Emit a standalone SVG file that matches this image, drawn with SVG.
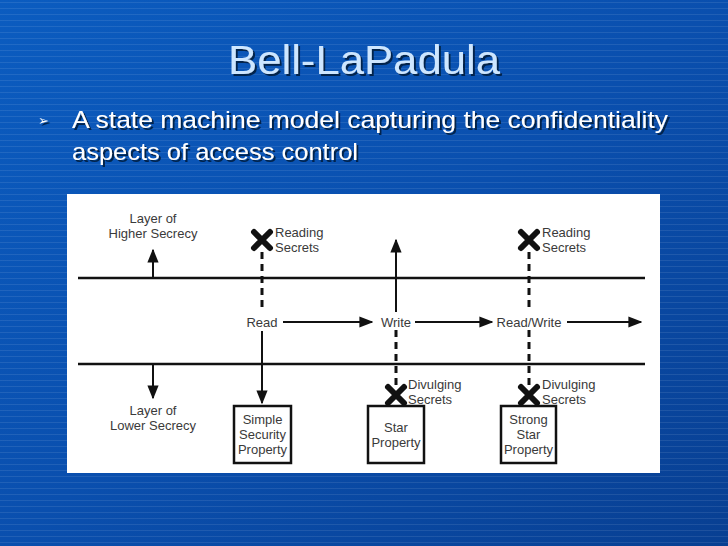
<svg xmlns="http://www.w3.org/2000/svg" width="728" height="546" viewBox="0 0 728 546">
<defs>
<linearGradient id="bg" x1="0" y1="0" x2="1" y2="1">
<stop offset="0" stop-color="#0b5cc0"/>
<stop offset="0.5" stop-color="#0a4fae"/>
<stop offset="1" stop-color="#083f92"/>
</linearGradient>
<pattern id="stripes" width="8" height="6" patternUnits="userSpaceOnUse">
<rect width="8" height="1" y="2" fill="#ffffff" fill-opacity="0.09"/>
</pattern>
<marker id="ah" viewBox="0 0 10 10" refX="9" refY="5" markerWidth="5" markerHeight="5" orient="auto-start-reverse" markerUnits="strokeWidth">
<path d="M0,1 L10,5 L0,9 Z" fill="#111"/>
</marker>
<marker id="ahs" viewBox="0 0 10 10" refX="9" refY="5" markerWidth="7" markerHeight="7" orient="auto" markerUnits="strokeWidth">
<path d="M0,1 L10,5 L0,9 Z" fill="#111"/>
</marker>
<filter id="sh" x="-5%" y="-20%" width="110%" height="140%">
<feDropShadow dx="2" dy="2" stdDeviation="0.6" flood-color="#001a40" flood-opacity="0.9"/>
</filter>
<path id="xm" d="M-8,-8 L8,8 M8,-8 L-8,8" stroke="#111" stroke-width="6" stroke-linecap="round"/>
</defs>
<style>
.lbl{font-family:"Liberation Sans",Arial,sans-serif;font-size:13px;fill:#3a3a3a}
.c{text-anchor:middle}
.ln{stroke:#111;stroke-width:2.5;fill:none}
.ar{stroke:#111;stroke-width:2;fill:none}
.ds{stroke:#111;stroke-width:3;stroke-dasharray:7,5;fill:none}
.box{fill:#fff;stroke:#111;stroke-width:2.5}
</style>
<rect width="728" height="546" fill="url(#bg)"/>
<rect width="728" height="546" fill="url(#stripes)"/>
<g id="title" filter="url(#sh)">
<text x="364" y="74" text-anchor="middle" font-family="Liberation Sans, Arial, sans-serif" font-size="40" fill="#cde6ff" textLength="272" lengthAdjust="spacingAndGlyphs">Bell-LaPadula</text>
</g>
<g id="bullet" filter="url(#sh)" font-family="Liberation Sans, Arial, sans-serif" font-size="24" fill="#ffffff">
<text x="38" y="125" font-family="DejaVu Sans, sans-serif" font-size="13">➢</text>
<text x="72" y="128" textLength="596" lengthAdjust="spacingAndGlyphs">A state machine model capturing the confidentiality</text>
<text x="72" y="160" textLength="286" lengthAdjust="spacingAndGlyphs">aspects of access control</text>
</g>
<rect id="panel" x="67" y="194" width="593" height="279" fill="#ffffff"/>
<g id="layers">
<line class="ln" x1="78" y1="278" x2="645" y2="278"/>
<line class="ln" x1="78" y1="364" x2="645" y2="364"/>
</g>
<g id="connectors">
<line class="ar" x1="153" y1="277" x2="153" y2="250" marker-end="url(#ahs)"/>
<line class="ar" x1="153" y1="365" x2="153" y2="398" marker-end="url(#ahs)"/>
<line class="ds" x1="262" y1="252" x2="262" y2="312"/>
<line class="ar" x1="262" y1="331" x2="262" y2="403" marker-end="url(#ahs)"/>
<line class="ar" x1="396" y1="312" x2="396" y2="240" marker-end="url(#ahs)"/>
<line class="ds" x1="396" y1="330" x2="396" y2="385"/>
<line class="ds" x1="529" y1="252" x2="529" y2="312"/>
<line class="ds" x1="529" y1="330" x2="529" y2="385"/>
<line class="ar" x1="283" y1="322" x2="372" y2="322" marker-end="url(#ahs)"/>
<line class="ar" x1="415" y1="322" x2="492" y2="322" marker-end="url(#ahs)"/>
<line class="ar" x1="567" y1="322" x2="641" y2="322" marker-end="url(#ahs)"/>
</g>
<g id="higher">
<text class="lbl c" x="153" y="223">Layer of</text>
<text class="lbl c" x="153" y="238">Higher Secrecy</text>
</g>
<g id="lower">
<text class="lbl c" x="153" y="415">Layer of</text>
<text class="lbl c" x="153" y="430">Lower Secrecy</text>
</g>
<g id="read"><text class="lbl c" x="262" y="327">Read</text></g>
<g id="write"><text class="lbl c" x="396" y="327">Write</text></g>
<g id="readwrite"><text class="lbl c" x="529" y="327">Read/Write</text></g>
<g id="reading1">
<use href="#xm" x="262" y="240"/>
<text class="lbl" x="275" y="237">Reading</text>
<text class="lbl" x="275" y="252">Secrets</text>
</g>
<g id="reading2">
<use href="#xm" x="529" y="240"/>
<text class="lbl" x="542" y="237">Reading</text>
<text class="lbl" x="542" y="252">Secrets</text>
</g>
<g id="divulging1">
<use href="#xm" x="396" y="395"/>
<text class="lbl" x="408" y="389">Divulging</text>
<text class="lbl" x="408" y="404">Secrets</text>
</g>
<g id="divulging2">
<use href="#xm" x="529" y="395"/>
<text class="lbl" x="542" y="389">Divulging</text>
<text class="lbl" x="542" y="404">Secrets</text>
</g>
<g id="simple">
<rect class="box" x="234" y="406" width="57" height="57"/>
<text class="lbl c" x="262.5" y="424">Simple</text>
<text class="lbl c" x="262.5" y="439">Security</text>
<text class="lbl c" x="262.5" y="454">Property</text>
</g>
<g id="star">
<rect class="box" x="368" y="406" width="56" height="57"/>
<text class="lbl c" x="396" y="432">Star</text>
<text class="lbl c" x="396" y="447">Property</text>
</g>
<g id="strong">
<rect class="box" x="501" y="406" width="55" height="57"/>
<text class="lbl c" x="528.5" y="424">Strong</text>
<text class="lbl c" x="528.5" y="439">Star</text>
<text class="lbl c" x="528.5" y="454">Property</text>
</g>
</svg>
